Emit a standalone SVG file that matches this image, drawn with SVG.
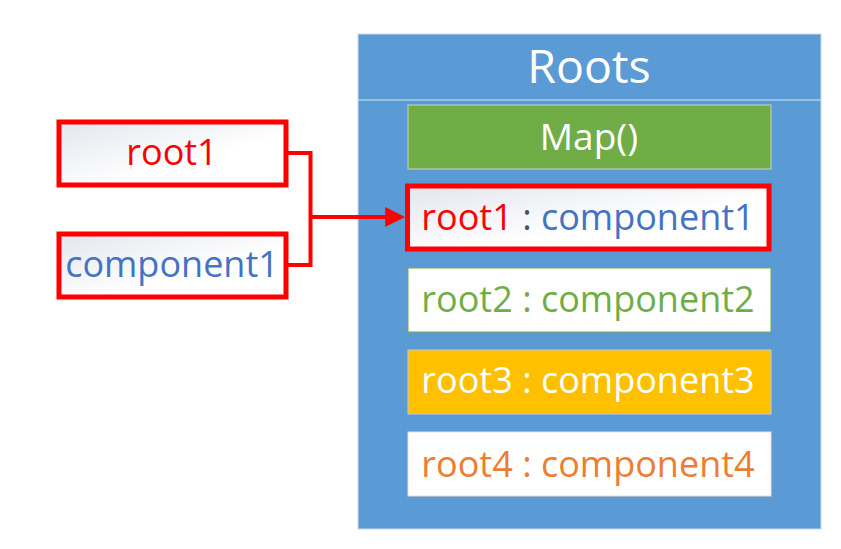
<svg xmlns="http://www.w3.org/2000/svg" width="841" height="549" viewBox="0 0 841 549">
<defs>
<linearGradient id="g" x1="0" y1="0" x2="1" y2="1">
<stop offset="0" stop-color="#E3E6EE"/>
<stop offset="0.6" stop-color="#FFFFFF"/>
<stop offset="1" stop-color="#FFFFFF"/>
</linearGradient>
<marker id="arr" markerWidth="5" markerHeight="5" refX="4.2" refY="2.5" orient="auto" markerUnits="strokeWidth">
<path d="M0,0 L5,2.5 L0,5 Z" fill="#FF0000"/>
</marker>
</defs>
<style>
text{font-family:"Open Sans","Noto Sans","Liberation Sans",sans-serif;text-anchor:middle}
.t{font-size:36px}
.left{font-size:36px}
.red{fill:#FF0000}
.blue{fill:#4472C4}
.redbox{fill:url(#g);stroke:#FF0000;stroke-width:5}
</style>
<rect width="841" height="549" fill="#FFFFFF"/>
<g id="roots">
<rect x="358" y="34" width="463" height="495" fill="#5B9BD5" stroke="#C9D9EC" stroke-width="1"/>
<line x1="358" y1="100" x2="821" y2="100" stroke="#D6E4F3" stroke-width="1"/>
<text x="589" y="83" font-size="46.5" fill="#FFFFFF">Roots</text>
</g>
<g id="map">
<rect x="408" y="105" width="363" height="64" fill="#70AD47" stroke="#C8D3BE" stroke-width="1"/>
<text x="589" y="150" font-size="37" fill="#FFFFFF">Map()</text>
</g>
<g id="entry1">
<rect class="redbox" x="407.5" y="186" width="361.5" height="63"/>
<text class="t" x="588" y="230"><tspan class="red">root1</tspan><tspan fill="#44546A"> : </tspan><tspan class="blue">component1</tspan></text>
</g>
<g id="entry2">
<rect x="408" y="268" width="363" height="64" fill="#FFFFFF" stroke="#70AD47" stroke-width="1"/>
<text class="t" x="588" y="312" fill="#70AD47">root2 : component2</text>
</g>
<g id="entry3">
<rect x="408" y="350" width="363" height="64" fill="#FFC000" stroke="#C9C9C9" stroke-width="1"/>
<text class="t" x="588" y="393" fill="#FFFFFF">root3 : component3</text>
</g>
<g id="entry4">
<rect x="408" y="432" width="363" height="64" fill="#FFFFFF" stroke="#F4D9CC" stroke-width="1"/>
<text class="t" x="588" y="477" fill="#ED7D31">root4 : component4</text>
</g>
<g id="root1">
<rect class="redbox" x="59" y="122" width="227" height="63"/>
<text class="left red" x="172" y="165">root1</text>
</g>
<g id="component1">
<rect class="redbox" x="59" y="234" width="227" height="63"/>
<text class="left blue" x="172" y="277">component1</text>
</g>
<g id="connectors" fill="none" stroke="#FF0000" stroke-width="4">
<polyline points="288,153 310.5,153 310.5,265 288,265"/>
<line x1="310.5" y1="217" x2="402" y2="217" marker-end="url(#arr)"/>
</g>
</svg>
